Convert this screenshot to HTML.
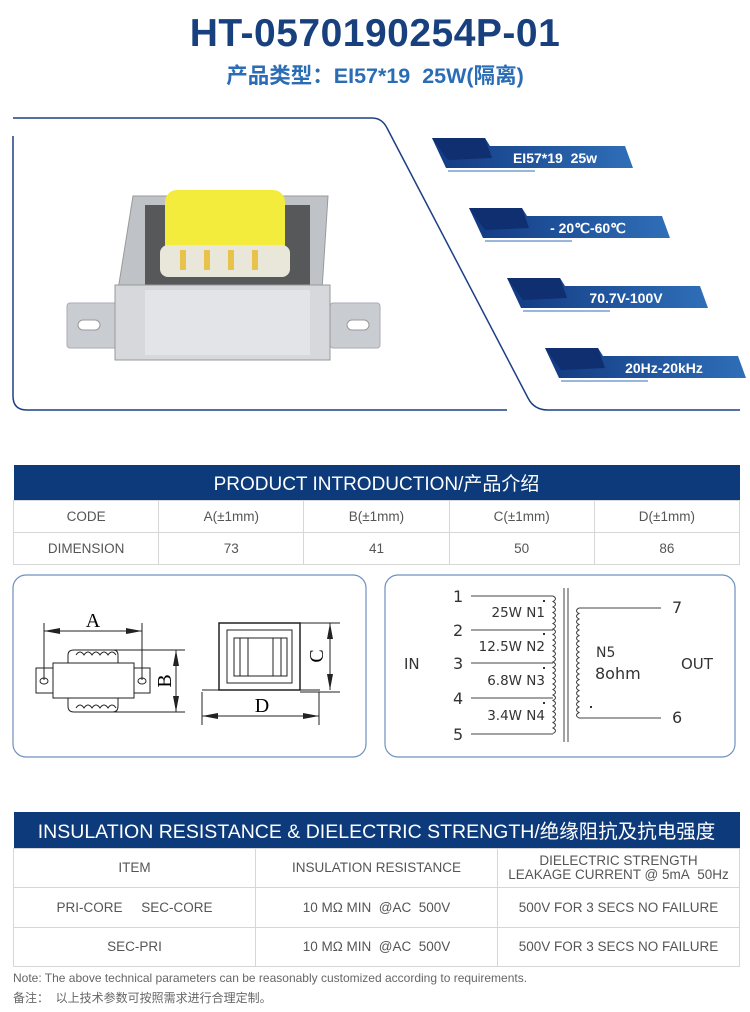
<!DOCTYPE html>
<html><head><meta charset="utf-8"><style>
html,body{margin:0;padding:0;background:#fff;}
body{width:750px;height:1012px;position:relative;overflow:hidden;font-family:"Liberation Sans","Noto Sans CJK SC",sans-serif;}
.abs{position:absolute;}
table{border-collapse:collapse;position:absolute;left:13px;width:727px;table-layout:fixed;}
td{border:1px solid #d6d6d6;text-align:center;color:#555;font-size:13.5px;padding:0;}
.hd{background:#0d3a7a;color:#fff;border:none;font-size:19px;}
</style></head><body>
<div class="abs" style="left:0;top:12px;width:750px;text-align:center;font-size:39px;font-weight:bold;color:#183f7e;letter-spacing:0.5px;">HT-0570190254P-01</div>
<div class="abs" style="left:0;top:59px;width:750px;text-align:center;font-size:21.5px;font-weight:bold;color:#2a6db5;">产品类型：EI57*19&nbsp; 25W(隔离)</div>

<svg class="abs" style="left:0;top:0" width="750" height="460">
 <path d="M13 118 L372 118 Q382 118 387 128 L528 398 Q534 410 548 410 L740 410" fill="none" stroke="#1d3f86" stroke-width="1.5"/>
 <path d="M13 136 L13 396 Q13 410 27 410 L507 410" fill="none" stroke="#1d3f86" stroke-width="1.5"/>
 <defs><linearGradient id="g" x1="0" x2="1"><stop offset="0" stop-color="#123a82"/><stop offset="1" stop-color="#2f6fb8"/></linearGradient></defs>
 <g id="b1">
  <polygon points="432,138 485,138 490,146 625,146 633,168 446,168" fill="url(#g)"/>
  <polygon points="432,138 485,138 492,158 448,160" fill="#0f2f70"/>
  <line x1="448" y1="171" x2="535" y2="171" stroke="#2f6fb8"/>
 </g>
 <use href="#b1" x="37" y="70"/><use href="#b1" x="75" y="140"/><use href="#b1" x="113" y="210"/>
 <text x="555" y="163" fill="#fff" font-size="14" font-weight="bold" text-anchor="middle" font-family="Liberation Sans">EI57*19&#160; 25w</text>
 <text x="588" y="233" fill="#fff" font-size="14" font-weight="bold" text-anchor="middle" font-family="Liberation Sans">- 20℃-60℃</text>
 <text x="626" y="303" fill="#fff" font-size="14" font-weight="bold" text-anchor="middle" font-family="Liberation Sans">70.7V-100V</text>
 <text x="664" y="373" fill="#fff" font-size="14" font-weight="bold" text-anchor="middle" font-family="Liberation Sans">20Hz-20kHz</text>
 <rect x="67" y="303" width="50" height="45" rx="3" fill="#c9cdd2" stroke="#aab"/>
 <rect x="330" y="303" width="50" height="45" rx="3" fill="#c9cdd2" stroke="#aab"/>
 <rect x="78" y="320" width="22" height="10" rx="5" fill="#fff" stroke="#999"/>
 <rect x="347" y="320" width="22" height="10" rx="5" fill="#fff" stroke="#999"/>
 <polygon points="133,196 328,196 322,290 118,290" fill="#bfc3c8" stroke="#999"/>
 <rect x="145" y="205" width="165" height="85" fill="#56585a"/>
 <rect x="165" y="190" width="120" height="75" rx="12" fill="#f4ec3c"/>
 <rect x="160" y="245" width="130" height="32" rx="8" fill="#e9e7da"/>
 <g fill="#e8c24a"><rect x="180" y="250" width="6" height="20"/><rect x="204" y="250" width="6" height="20"/><rect x="228" y="250" width="6" height="20"/><rect x="252" y="250" width="6" height="20"/></g>
 <rect x="115" y="285" width="215" height="75" fill="#d6d8dc" stroke="#999"/>
 <rect x="145" y="290" width="165" height="65" fill="#e2e4e7"/>
</svg>

<table style="top:465px;">
 <tr style="height:35px"><td class="hd" colspan="5">PRODUCT INTRODUCTION/产品介绍</td></tr>
 <tr style="height:32px"><td style="width:145px">CODE</td><td>A(±1mm)</td><td>B(±1mm)</td><td>C(±1mm)</td><td>D(±1mm)</td></tr>
 <tr style="height:32px"><td>DIMENSION</td><td>73</td><td>41</td><td>50</td><td>86</td></tr>
</table>

<svg class="abs" style="left:0;top:0" width="750" height="780" font-family="Liberation Serif">
 <rect x="13" y="575" width="353" height="182" rx="13" fill="none" stroke="#6f8fc0" stroke-width="1.2"/>
 <rect x="385" y="575" width="350" height="182" rx="13" fill="none" stroke="#6f8fc0" stroke-width="1.2"/>
 <g stroke="#222" fill="none" stroke-width="1">
  <line x1="44" y1="623" x2="44" y2="680"/><line x1="142" y1="623" x2="142" y2="680"/>
  <line x1="44" y1="631" x2="142" y2="631"/>
  <rect x="53" y="663" width="81" height="35"/>
  <rect x="36" y="668" width="17" height="25"/><rect x="134" y="668" width="16" height="25"/>
  <ellipse cx="44" cy="681" rx="4" ry="3"/><ellipse cx="142" cy="681" rx="4" ry="3"/>
  <path d="M68 663 L68 655 Q68 650 74 650 L113 650 Q118 650 118 655 L118 663"/>
  <path d="M68 698 L68 706 Q68 712 74 712 L113 712 Q118 712 118 706 L118 698"/>
  <path d="M76 655 q4 -6 8 0 q4 -6 8 0 q4 -6 8 0 q4 -6 8 0 q4 -6 8 0"/>
  <path d="M76 708 q4 -6 8 0 q4 -6 8 0 q4 -6 8 0 q4 -6 8 0 q4 -6 8 0"/>
  <line x1="110" y1="650" x2="185" y2="650"/><line x1="110" y1="712" x2="185" y2="712"/>
  <line x1="176" y1="650" x2="176" y2="712"/>
  <rect x="219" y="623" width="81" height="67" stroke-width="1.5"/>
  <rect x="227" y="630" width="65" height="53"/>
  <rect x="234" y="638" width="53" height="38"/>
  <line x1="240" y1="638" x2="240" y2="676"/><line x1="248" y1="638" x2="248" y2="676"/><line x1="273" y1="638" x2="273" y2="676"/><line x1="281" y1="638" x2="281" y2="676"/>
  <line x1="202" y1="690" x2="320" y2="690"/>
  <line x1="300" y1="623" x2="340" y2="623"/><line x1="300" y1="692" x2="340" y2="692"/>
  <line x1="330" y1="623" x2="330" y2="690"/>
  <line x1="202" y1="692" x2="202" y2="725"/><line x1="319" y1="692" x2="319" y2="725"/>
  <line x1="202" y1="716" x2="319" y2="716"/>
 </g>
 <g fill="#222">
  <polygon points="44,631 60,628 60,634"/><polygon points="142,631 126,628 126,634"/>
  <polygon points="176,650 173,666 179,666"/><polygon points="176,712 173,696 179,696"/>
  <polygon points="330,623 327,639 333,639"/><polygon points="330,690 327,674 333,674"/>
  <polygon points="202,716 218,713 218,719"/><polygon points="319,716 303,713 303,719"/>
 </g>
 <text x="93" y="627" font-size="20" text-anchor="middle">A</text>
 <text x="262" y="712" font-size="20" text-anchor="middle">D</text>
 <text transform="translate(171,681) rotate(-90)" font-size="20" text-anchor="middle">B</text>
 <text transform="translate(323,656) rotate(-90)" font-size="20" text-anchor="middle">C</text>
</svg>

<svg class="abs" style="left:0;top:0" width="750" height="780" font-family="DejaVu Sans">
 <g stroke="#444" stroke-width="1" fill="none">
  <line x1="471" y1="596" x2="553" y2="596"/><line x1="471" y1="630" x2="553" y2="630"/><line x1="471" y1="663" x2="553" y2="663"/><line x1="471" y1="698" x2="553" y2="698"/><line x1="471" y1="734" x2="553" y2="734"/>
  <path d="M553 596 q5 2.75 0 5.5 q5 2.75 0 5.5 q5 2.75 0 5.5 q5 2.75 0 5.5 q5 2.75 0 5.5 q5 2.75 0 5.5 q5 2.75 0 5.5 q5 2.75 0 5.5 q5 2.75 0 5.5 q5 2.75 0 5.5 q5 2.75 0 5.5 q5 2.75 0 5.5 q5 2.75 0 5.5 q5 2.75 0 5.5 q5 2.75 0 5.5 q5 2.75 0 5.5 q5 2.75 0 5.5 q5 2.75 0 5.5 q5 2.75 0 5.5 q5 2.75 0 5.5 q5 2.75 0 5.5 q5 2.75 0 5.5 q5 2.75 0 5.5 q5 2.75 0 5.5 q5 2.75 0 5.5"/>
  <line x1="564" y1="588" x2="564" y2="742"/><line x1="568" y1="588" x2="568" y2="742"/>
  <path d="M579 608 q-5 2.75 0 5.5 q-5 2.75 0 5.5 q-5 2.75 0 5.5 q-5 2.75 0 5.5 q-5 2.75 0 5.5 q-5 2.75 0 5.5 q-5 2.75 0 5.5 q-5 2.75 0 5.5 q-5 2.75 0 5.5 q-5 2.75 0 5.5 q-5 2.75 0 5.5 q-5 2.75 0 5.5 q-5 2.75 0 5.5 q-5 2.75 0 5.5 q-5 2.75 0 5.5 q-5 2.75 0 5.5 q-5 2.75 0 5.5 q-5 2.75 0 5.5 q-5 2.75 0 5.5 q-5 2.75 0 5.5"/>
  <line x1="579" y1="608" x2="661" y2="608"/><line x1="579" y1="718" x2="661" y2="718"/>
 </g>
 <g fill="#333" font-size="16">
  <text x="453" y="602">1</text><text x="453" y="636">2</text><text x="453" y="669">3</text><text x="453" y="704">4</text><text x="453" y="740">5</text>
  <text x="672" y="613">7</text><text x="672" y="723">6</text>
  <text x="404" y="669" font-size="15">IN</text><text x="681" y="669" font-size="15">OUT</text>
  <text x="596" y="657" font-size="14">N5</text><text x="595" y="679" font-size="16">8ohm</text>
 </g>
 <g fill="#333" font-size="13.5" text-anchor="end">
  <text x="545" y="617">25W N1</text><text x="545" y="651">12.5W N2</text><text x="545" y="685">6.8W N3</text><text x="545" y="720">3.4W N4</text>
 </g>
 <g fill="#333"><rect x="543" y="600" width="2" height="2"/><rect x="543" y="633" width="2" height="2"/><rect x="543" y="667" width="2" height="2"/><rect x="543" y="702" width="2" height="2"/><rect x="590" y="706" width="2" height="2"/></g>
</svg>

<table style="top:812px;">
 <tr style="height:36px"><td class="hd" colspan="3" style="font-size:19.5px">INSULATION RESISTANCE &amp; DIELECTRIC STRENGTH/绝缘阻抗及抗电强度</td></tr>
 <tr style="height:39px"><td style="width:243px">ITEM</td><td style="width:240px">INSULATION RESISTANCE</td><td style="line-height:14px">DIELECTRIC STRENGTH<br>LEAKAGE CURRENT @ 5mA&nbsp; 50Hz</td></tr>
 <tr style="height:40px"><td>PRI-CORE &nbsp;&nbsp;&nbsp; SEC-CORE</td><td>10 MΩ MIN&nbsp; @AC&nbsp; 500V</td><td>500V FOR 3 SECS NO FAILURE</td></tr>
 <tr style="height:39px"><td>SEC-PRI</td><td>10 MΩ MIN&nbsp; @AC&nbsp; 500V</td><td>500V FOR 3 SECS NO FAILURE</td></tr>
</table>
<div class="abs" style="left:13px;top:971px;font-size:12px;color:#666;">Note: The above technical parameters can be reasonably customized according to requirements.</div>
<div class="abs" style="left:13px;top:989px;font-size:12px;color:#666;">备注：&nbsp; 以上技术参数可按照需求进行合理定制。</div>
</body></html>
